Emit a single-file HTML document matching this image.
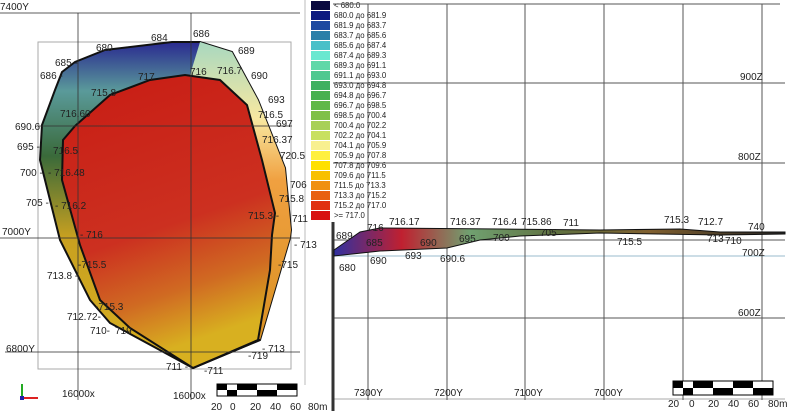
<!DOCTYPE html>
<html><head><meta charset="utf-8"><style>
html,body{margin:0;padding:0;background:#fff}
svg{display:block}
text{font-family:"Liberation Sans",sans-serif;fill:#222}
</style></head><body>
<svg width="788" height="416" viewBox="0 0 788 416" xmlns="http://www.w3.org/2000/svg">
<defs>
<linearGradient id="inner" x1="0" y1="0" x2="0.25" y2="1">
<stop offset="0" stop-color="#c81c14"/><stop offset="0.6" stop-color="#cc3020"/><stop offset="0.82" stop-color="#d06a22"/><stop offset="1" stop-color="#d8b020"/>
</linearGradient>
<linearGradient id="outer" x1="0" y1="0" x2="0" y2="1">
<stop offset="0" stop-color="#2a2a90"/><stop offset="0.15" stop-color="#5a9a9a"/><stop offset="0.35" stop-color="#3a6a3a"/><stop offset="0.6" stop-color="#c8a020"/><stop offset="1" stop-color="#d8b020"/>
</linearGradient>
<linearGradient id="outerR" x1="0" y1="0" x2="0" y2="1">
<stop offset="0" stop-color="#a8d8c0"/><stop offset="0.25" stop-color="#f8e8a0"/><stop offset="0.45" stop-color="#f0a040"/><stop offset="1" stop-color="#d89020"/>
</linearGradient>
<linearGradient id="sl" x1="0" y1="0" x2="1" y2="0">
<stop offset="0" stop-color="#3030a0"/><stop offset="0.15" stop-color="#c02030"/><stop offset="0.3" stop-color="#70a070"/><stop offset="0.5" stop-color="#607040"/><stop offset="0.7" stop-color="#806030"/><stop offset="1" stop-color="#222"/>
</linearGradient>
</defs>
<g stroke="#aaa" fill="none"><rect x="38" y="42" width="253" height="327"/><line x1="305" y1="0" x2="305" y2="385" stroke="#bbb"/></g>
<!-- body -->
<polygon points="62,72 75,62 105,50 172,42 200,42 232,52 258,100 285,168 291,230 290,238 260,340 193,368 110,323 90,300 60,240 40,160 42,125 55,90" fill="url(#outer)" stroke="#111" stroke-width="2"/>
<polygon points="200,42 232,52 258,100 285,168 291,230 290,238 260,340 220,350 258,340 270,270 275,213 262,160 247,105 220,80 190,75" fill="url(#outerR)"/>
<polygon points="75,126 110,95 150,80 185,75 220,80 247,105 262,160 275,213 272,235 270,270 258,340 193,368 130,328 100,300 80,245 62,180 63,140" fill="url(#inner)" stroke="#111" stroke-width="2"/>
<polyline points="258,340 260,340 193,368" fill="none" stroke="#111" stroke-width="2"/>
<!-- left grid (over body, translucent) -->
<g stroke="#333" stroke-width="1" fill="none" stroke-opacity="0.8">
<line x1="0" y1="13" x2="300" y2="13"/>
<line x1="38" y1="126" x2="292" y2="126"/>
<line x1="0" y1="238" x2="300" y2="238"/>
<line x1="5" y1="352" x2="300" y2="352"/>
<line x1="78" y1="13" x2="78" y2="400"/>
<line x1="191" y1="13" x2="191" y2="400"/>
</g>
<g font-size="10">
<text x="0" y="10">7400Y</text><text x="2" y="235">7000Y</text><text x="6" y="352">6800Y</text>
<text x="62" y="397">16000x</text><text x="173" y="399">16000x</text>
<text x="96" y="51">680</text><text x="151" y="41">684</text><text x="193" y="37">686</text><text x="238" y="54">689</text><text x="251" y="79">690</text><text x="268" y="103">693</text><text x="276" y="127">697</text>
<text x="217" y="74">716.7</text><text x="190" y="75">716</text><text x="138" y="80">717</text><text x="91" y="96">715.8</text>
<text x="55" y="66">685 -</text><text x="40" y="79">686 -</text>
<text x="60" y="117">716.60</text><text x="258" y="118">716.5</text><text x="262" y="143">716.37</text><text x="280" y="159">720.5</text>
<text x="15" y="130">690.6</text><text x="17" y="150">695 -</text><text x="53" y="154">716.5</text>
<text x="20" y="176">700 -</text><text x="48" y="176">- 716.48</text><text x="290" y="188">706</text><text x="279" y="202">715.8</text>
<text x="26" y="206">705 -</text><text x="55" y="209">- 716.2</text><text x="248" y="219">715.3 -</text><text x="292" y="222">711</text>
<text x="80" y="238">- 716</text><text x="294" y="248">- 713</text><text x="78" y="268">-715.5</text><text x="278" y="268">-715</text>
<text x="47" y="279">713.8 -</text><text x="95" y="310">-715.3</text><text x="67" y="320">712.72-</text><text x="90" y="334">710-</text><text x="115" y="334">719</text>
<text x="262" y="352">- 713</text><text x="248" y="359">-719</text><text x="166" y="370">711 -</text><text x="204" y="374">-711</text>
</g>
<line x1="22" y1="398" x2="22" y2="384" stroke="#2a2" stroke-width="2"/><line x1="22" y1="398" x2="38" y2="398" stroke="#d22" stroke-width="2"/><rect x="20" y="396" width="4" height="4" fill="#22a"/>
<g>
<rect x="217" y="384" width="80" height="12" fill="#fff" stroke="#000"/>
<rect x="217" y="384" width="10" height="6" fill="#000"/><rect x="227" y="390" width="10" height="6" fill="#000"/>
<rect x="237" y="384" width="20" height="6" fill="#000"/><rect x="257" y="390" width="20" height="6" fill="#000"/><rect x="277" y="384" width="20" height="6" fill="#000"/>
<text x="211" y="410" font-size="10">20</text><text x="230" y="410" font-size="10">0</text><text x="250" y="410" font-size="10">20</text><text x="270" y="410" font-size="10">40</text><text x="290" y="410" font-size="10">60</text><text x="308" y="410" font-size="10">80m</text>
</g>
<g font-size="7.8">
<rect x="311" y="1" width="19" height="9" fill="#0a0a40"/><text x="334" y="8">&lt; 680.0</text>
<rect x="311" y="11" width="19" height="9" fill="#0c1a80"/><text x="334" y="18">680.0 до 681.9</text>
<rect x="311" y="21" width="19" height="9" fill="#1c4aa0"/><text x="334" y="28">681.9 до 683.7</text>
<rect x="311" y="31" width="19" height="9" fill="#2a80a8"/><text x="334" y="38">683.7 до 685.6</text>
<rect x="311" y="41" width="19" height="9" fill="#4ac0c8"/><text x="334" y="48">685.6 до 687.4</text>
<rect x="311" y="51" width="19" height="9" fill="#6ae8d0"/><text x="334" y="58">687.4 до 689.3</text>
<rect x="311" y="61" width="19" height="9" fill="#60d8a8"/><text x="334" y="68">689.3 до 691.1</text>
<rect x="311" y="71" width="19" height="9" fill="#50c890"/><text x="334" y="78">691.1 до 693.0</text>
<rect x="311" y="81" width="19" height="9" fill="#40b060"/><text x="334" y="88">693.0 до 694.8</text>
<rect x="311" y="91" width="19" height="9" fill="#48b050"/><text x="334" y="98">694.8 до 696.7</text>
<rect x="311" y="101" width="19" height="9" fill="#60b848"/><text x="334" y="108">696.7 до 698.5</text>
<rect x="311" y="111" width="19" height="9" fill="#80c048"/><text x="334" y="118">698.5 до 700.4</text>
<rect x="311" y="121" width="19" height="9" fill="#a8d058"/><text x="334" y="128">700.4 до 702.2</text>
<rect x="311" y="131" width="19" height="9" fill="#c8e060"/><text x="334" y="138">702.2 до 704.1</text>
<rect x="311" y="141" width="19" height="9" fill="#f8f090"/><text x="334" y="148">704.1 до 705.9</text>
<rect x="311" y="151" width="19" height="9" fill="#fff040"/><text x="334" y="158">705.9 до 707.8</text>
<rect x="311" y="161" width="19" height="9" fill="#ffe000"/><text x="334" y="168">707.8 до 709.6</text>
<rect x="311" y="171" width="19" height="9" fill="#f8c000"/><text x="334" y="178">709.6 до 711.5</text>
<rect x="311" y="181" width="19" height="9" fill="#f09010"/><text x="334" y="188">711.5 до 713.3</text>
<rect x="311" y="191" width="19" height="9" fill="#e86010"/><text x="334" y="198">713.3 до 715.2</text>
<rect x="311" y="201" width="19" height="9" fill="#e03010"/><text x="334" y="208">715.2 до 717.0</text>
<rect x="311" y="211" width="19" height="9" fill="#d81010"/><text x="334" y="218">&gt;= 717.0</text>
</g>
<g stroke="#555" stroke-width="1">
<line x1="333" y1="4" x2="780" y2="4"/>
<line x1="333" y1="83" x2="785" y2="83"/>
<line x1="333" y1="163" x2="785" y2="163"/>
<line x1="333" y1="240" x2="785" y2="240"/>
<line x1="333" y1="256" x2="785" y2="256" stroke="#9bc"/>
<line x1="333" y1="318" x2="785" y2="318"/>
<line x1="333" y1="399" x2="785" y2="399" stroke="#aaa"/>
<line x1="368" y1="4" x2="368" y2="400"/><line x1="447" y1="4" x2="447" y2="400"/><line x1="525" y1="4" x2="525" y2="400"/><line x1="604" y1="4" x2="604" y2="400"/><line x1="683" y1="4" x2="683" y2="400"/><line x1="762" y1="4" x2="762" y2="400"/>
</g>
<line x1="333" y1="222" x2="333" y2="411" stroke="#333" stroke-width="3"/>
<polygon points="334,250 360,232 380,228 500,229 600,230 680,229 720,232 785,232 785,234 720,235 600,233 520,236 480,240 447,248 380,251 334,256" fill="url(#sl)" stroke="#111" stroke-width="1"/>
<g font-size="10">
<text x="740" y="80">900Z</text><text x="738" y="160">800Z</text><text x="742" y="256">700Z</text><text x="738" y="316">600Z</text>
<text x="354" y="396">7300Y</text><text x="434" y="396">7200Y</text><text x="514" y="396">7100Y</text><text x="594" y="396">7000Y</text>
<text x="367" y="231">716</text><text x="389" y="225">716.17</text><text x="450" y="225">716.37</text><text x="492" y="225">716.4</text><text x="521" y="225">715.86</text><text x="563" y="226">711</text>
<text x="664" y="223">715.3</text><text x="698" y="225">712.7</text><text x="748" y="230">740</text>
<text x="336" y="239">689</text><text x="366" y="246">685</text><text x="420" y="246">690</text><text x="459" y="242">695</text><text x="493" y="241">700</text><text x="540" y="236">705</text>
<text x="617" y="245">715.5</text><text x="707" y="242">713</text><text x="725" y="244">710</text>
<text x="339" y="271">680</text><text x="370" y="264">690</text><text x="405" y="259">693</text><text x="440" y="262">690.6</text>
</g>
<g>
<rect x="673" y="381" width="100" height="14" fill="#fff" stroke="#000"/>
<rect x="673" y="381" width="10" height="7" fill="#000"/><rect x="683" y="388" width="10" height="7" fill="#000"/>
<rect x="693" y="381" width="20" height="7" fill="#000"/><rect x="713" y="388" width="20" height="7" fill="#000"/><rect x="733" y="381" width="20" height="7" fill="#000"/><rect x="753" y="388" width="20" height="7" fill="#000"/>
<text x="668" y="407" font-size="10">20</text><text x="689" y="407" font-size="10">0</text><text x="708" y="407" font-size="10">20</text><text x="728" y="407" font-size="10">40</text><text x="748" y="407" font-size="10">60</text><text x="768" y="407" font-size="10">80m</text>
</g>
</svg>
</body></html>
